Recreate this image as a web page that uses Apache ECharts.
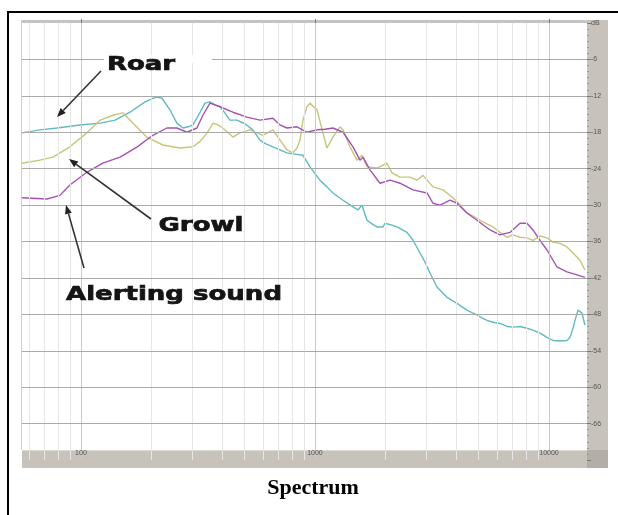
<!DOCTYPE html>
<html><head><meta charset="utf-8">
<script src="https://cdn.jsdelivr.net/npm/echarts@6/dist/echarts.min.js"></script>
<style>html,body{margin:0;padding:0;background:#fff}#c{width:618px;height:515px}</style>
</head><body><div id="c"></div>
<script>
// ---- data (frequency in Hz, level in dB) ----
const roarFreq = [56,66.8,79,99,121,140,162,188,203,211,222,240,257,273,287,301,323,339,356,374,393,412,433,464,502,543,582,617,661,709,759,821,889,952,1050,1125,1194,1318,1454,1527,1588,1668,1752,1841,1953,1991,2133,2241,2473,2624,2811,2953,3101,3322,3665,4045,4463,4687,4924,5172,5433,5763,6174,6614,7017,7517,8053,8543,9153,9805,10401,11143,11938,12296,12664,12915,13302,13836,14251];
const roarDb = [-18.1,-17.6,-17.3,-16.8,-16.5,-16.0,-14.7,-13.0,-12.4,-12.2,-12.4,-14.3,-16.5,-17.3,-17.1,-16.8,-14.7,-13.2,-13.0,-13.5,-13.8,-14.8,-16.0,-16.0,-16.6,-17.6,-19.3,-19.9,-20.4,-20.9,-21.4,-21.6,-21.8,-23.7,-25.9,-27.0,-28.0,-29.2,-30.3,-30.8,-30.0,-32.5,-33.1,-33.6,-33.6,-33.0,-33.3,-33.6,-34.5,-35.8,-37.9,-39.4,-41.2,-43.5,-45.2,-46.2,-47.3,-47.7,-48.1,-48.6,-49.0,-49.3,-49.5,-50.0,-50.1,-50.0,-50.3,-50.6,-51.1,-51.8,-52.3,-52.4,-52.3,-51.8,-50.3,-49.0,-47.3,-47.8,-49.8];

const growlFreq = [56,66.8,75.9,89.7,106,121,137,151,167,191,224,265,301,323,346,367,385,404,446,478,527,599,661,709,759,805,838,863,889,924,952,981,1020,1082,1125,1194,1279,1318,1411,1512,1588,1668,1841,2031,2133,2308,2548,2729,2895,3194,3524,3888,4166,4463,4734,5071,5433,5763,6174,6614,7017,7517,8053,8543,9153,9805,10401,11143,11938,12664,13567,14251];
const growlDb = [-23.1,-22.6,-22.1,-20.4,-18.1,-16.0,-15.2,-14.8,-16.5,-18.8,-20.1,-20.6,-20.4,-19.5,-18.1,-16.5,-16.8,-17.3,-18.8,-18.1,-17.6,-18.5,-17.6,-19.3,-20.9,-21.4,-20.6,-19.3,-16.0,-13.8,-13.2,-13.7,-14.3,-18.1,-20.6,-18.8,-17.1,-17.6,-20.4,-22.6,-21.8,-23.7,-23.9,-23.1,-24.7,-25.4,-25.4,-25.9,-25.1,-27.0,-27.5,-28.8,-30.0,-31.3,-31.8,-32.5,-33.1,-33.6,-34.5,-35.3,-34.9,-35.3,-35.4,-35.8,-35.1,-35.4,-36.1,-36.3,-36.9,-37.9,-39.1,-40.7];

const alertFreq = [56,71.6,81.3,89.7,106,124,147,174,203,233,257,284,313,332,356,393,446,512,582,661,709,759,838,924,1020,1103,1194,1318,1454,1557,1604,1718,1896,2092,2308,2624,3011,3194,3422,3775,4045,4463,4924,5596,6174,6813,7517,8053,8543,9153,9805,10819,11938,13172,14251];
const alertDb = [-28.8,-29.0,-28.4,-26.7,-24.6,-23.1,-22.1,-20.4,-18.5,-17.3,-17.3,-18.0,-17.3,-15.2,-13.2,-13.8,-14.7,-15.5,-16.0,-15.7,-16.8,-17.3,-17.1,-18.0,-17.6,-17.5,-17.3,-18.0,-20.4,-22.6,-22.1,-24.2,-26.4,-25.9,-26.4,-27.5,-28.0,-29.7,-30.0,-29.2,-29.7,-31.3,-32.5,-34.1,-34.9,-34.5,-33.0,-33.0,-34.1,-35.8,-37.4,-40.2,-41.0,-41.5,-41.9];

const freqMin = 56, freqMax = 14534;
const majorFreqs = [100, 1000, 10000];
const minorFreqs = [60,70,80,90,200,300,400,500,600,700,800,900,2000,3000,4000,5000,6000,7000,8000,9000];
const dbLines = [-6,-12,-18,-24,-30,-36,-42,-48,-54,-60,-66];
const xTickLabels = {100:'100', 1000:'1000', 10000:'10000'};

const zip = (a, b) => a.map((v, i) => [v, b[i]]);

function arrow(x1, y1, x2, y2) {
  const dx = x2 - x1, dy = y2 - y1, L = Math.hypot(dx, dy);
  const ux = dx / L, uy = dy / L, hl = 9, hw = 3.5;
  const bx = x2 - ux * hl, by = y2 - uy * hl;
  return [
    {type:'line', z:20, shape:{x1, y1, x2: bx, y2: by}, style:{stroke:'#333', lineWidth:1.6}},
    {type:'polygon', z:20, shape:{points:[[x2,y2],[bx - uy*hw, by + ux*hw],[bx + uy*hw, by - ux*hw]]}, style:{fill:'#222'}}
  ];
}
function label(text, x, y) {
  return {type:'text', z:21, x, y, scaleX:1.3,
    style:{text, x:0, y:0, align:'center', verticalAlign:'middle',
      font:'bold 20px "DejaVu Sans"', fill:'#141414', stroke:'#141414', lineWidth:0.7}};
}

const chart = echarts.init(document.getElementById('c'), null, {renderer:'canvas'});
const gridLineStyle = (c) => ({color:c, width:1, type:'solid'});

chart.setOption({
  animation:false,
  backgroundColor:'#fff',
  grid:{left:22, right:31, top:23, bottom:55, containLabel:false},
  xAxis:{type:'log', logBase:10, min:freqMin, max:freqMax, z:10,
    axisLine:{show:false}, splitLine:{show:false},
    axisTick:{show:true, length:4, inside:true, lineStyle:{color:'#777'}},
    axisLabel:{show:true, margin:-10, fontSize:7, color:'#555', showMinLabel:false, showMaxLabel:false,
      formatter:(v) => xTickLabels[Math.round(v)] || ''}
  },
  yAxis:{type:'value', position:'right', min:-72, max:0, interval:6, z:10,
    axisLine:{show:false}, splitLine:{show:false},
    axisTick:{show:true, length:4, lineStyle:{color:'#777'}},
    minorTick:{show:true, splitNumber:6, length:2, lineStyle:{color:'#999'}},
    axisLabel:{margin:4, fontSize:7, color:'#555',
      formatter:(v) => v === 0 ? 'dB' : (v === -72 ? '' : String(v))}
  },
  series:[
    {type:'line', data:[], z:1, silent:true,
      markLine:{silent:true, symbol:'none', animation:false, label:{show:false},
        data:[
          ...minorFreqs.map(f => ({xAxis:f, lineStyle:gridLineStyle('#e6e6e6')})),
          ...majorFreqs.map(f => ({xAxis:f, lineStyle:gridLineStyle('#c9c9c9')})),
          ...dbLines.map(v => ({yAxis:v, lineStyle:gridLineStyle('#a9a9a9')}))
        ]}},
    {name:'Roar', type:'line', z:3, showSymbol:false, data:zip(roarFreq, roarDb),
      lineStyle:{color:'#5fbac2', width:1.4}, itemStyle:{color:'#5fbac2'}},
    {name:'Growl', type:'line', z:3, showSymbol:false, data:zip(growlFreq, growlDb),
      lineStyle:{color:'#c6c678', width:1.4}, itemStyle:{color:'#c6c678'}},
    {name:'Alerting sound', type:'line', z:3, showSymbol:false, data:zip(alertFreq, alertDb),
      lineStyle:{color:'#a652b2', width:1.4}, itemStyle:{color:'#a652b2'}}
  ],
  graphic:[
    {type:'rect', z:30, shape:{x:8, y:11, width:610, height:2}, style:{fill:'#000'}},
    {type:'rect', z:30, shape:{x:7, y:11, width:2, height:504}, style:{fill:'#000'}},
    {type:'rect', z:6, shape:{x:22, y:20, width:565, height:3}, style:{fill:'#c4c4c4'}},
    {type:'rect', z:6, shape:{x:21, y:20, width:1, height:430}, style:{fill:'#d0d0d0'}},
    {type:'rect', z:5, shape:{x:587, y:20, width:21, height:430}, style:{fill:'#c7c3bb'}},
    {type:'rect', z:5, shape:{x:22, y:450, width:565, height:18}, style:{fill:'#c7c3bb'}},
    {type:'rect', z:5, shape:{x:587, y:450, width:21, height:18}, style:{fill:'#b3afa6'}},
    {type:'rect', z:5, shape:{x:22, y:450, width:565, height:1}, style:{fill:'#dedad2'}},
    {type:'rect', z:19, shape:{x:104, y:55, width:108, height:8}, style:{fill:'#fff'}},
    label('Roar', 141, 65),
    label('Growl', 201, 226),
    label('Alerting sound', 174, 295),
    ...arrow(101, 71, 57, 117),
    ...arrow(151, 219, 69, 159),
    ...arrow(84, 268, 66, 205),
    {type:'text', z:30, x:313, y:488,
      style:{text:'Spectrum', align:'center', verticalAlign:'middle',
        font:'bold 22px "Liberation Serif"', fill:'#000'}}
  ]
});
</script></body></html>
